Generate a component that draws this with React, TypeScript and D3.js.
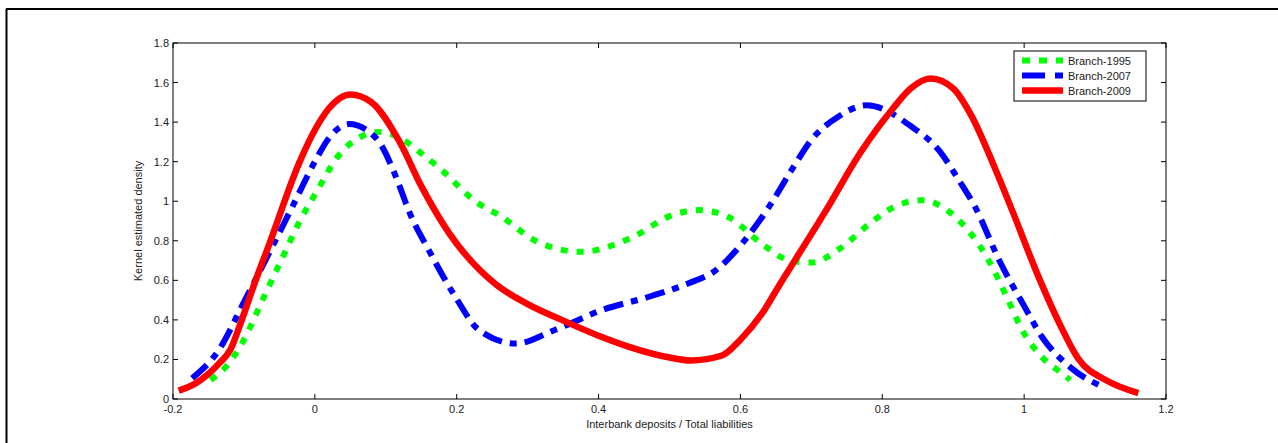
import React from "react";
import * as d3 from "d3";

const W = 1278;
const H = 443;
const M = { left: 173, right: 1166, top: 43, bottom: 399 };

const xTicks = [-0.2, 0, 0.2, 0.4, 0.6, 0.8, 1, 1.2];
const yTicks = [0, 0.2, 0.4, 0.6, 0.8, 1, 1.2, 1.4, 1.6, 1.8];

// Branch-1995 (green dotted)
const x1995 = [-0.147, -0.125, -0.103, -0.07, -0.045, -0.0225, 0.006, 0.029, 0.067, 0.09, 0.12, 0.151, 0.179, 0.226, 0.264, 0.311, 0.376, 0.443, 0.508, 0.541, 0.583, 0.63, 0.67, 0.7, 0.74, 0.78, 0.816, 0.856, 0.9, 0.95, 0.975, 0.997, 1.023, 1.053, 1.065];
const y1995 = [0.096, 0.165, 0.28, 0.53, 0.72, 0.89, 1.07, 1.21, 1.33, 1.35, 1.32, 1.24, 1.157, 1.0, 0.92, 0.8, 0.744, 0.81, 0.935, 0.955, 0.92, 0.785, 0.7, 0.69, 0.76, 0.88, 0.97, 1.005, 0.93, 0.7, 0.52, 0.35, 0.22, 0.13, 0.096];

// Branch-2007 (blue dash-dot)
const x2007 = [-0.173, -0.135, -0.1, -0.06, -0.032, 0, 0.02, 0.048, 0.086, 0.118, 0.132, 0.161, 0.198, 0.231, 0.283, 0.339, 0.405, 0.471, 0.527, 0.565, 0.602, 0.64, 0.672, 0.7, 0.739, 0.778, 0.842, 0.88, 0.908, 0.931, 0.965, 1.0, 1.025, 1.067, 1.115];
const y2007 = [0.105, 0.25, 0.49, 0.77, 0.97, 1.2, 1.32, 1.39, 1.32, 1.09, 0.955, 0.75, 0.517, 0.35, 0.28, 0.35, 0.45, 0.517, 0.585, 0.65, 0.785, 0.97, 1.157, 1.31, 1.43, 1.485, 1.375, 1.257, 1.106, 0.97, 0.7, 0.47, 0.315, 0.155, 0.055];

// Branch-2009 (red solid)
const x2009 = [-0.192, -0.17, -0.149, -0.135, -0.119, -0.105, -0.085, -0.064, -0.0225, 0, 0.02, 0.05, 0.08, 0.118, 0.151, 0.189, 0.255, 0.3, 0.348, 0.4, 0.443, 0.5, 0.53, 0.574, 0.6, 0.63, 0.654, 0.72, 0.77, 0.813, 0.84, 0.868, 0.9, 0.926, 0.955, 0.983, 1.02, 1.05, 1.077, 1.115, 1.161];
const y2009 = [0.042, 0.075, 0.13, 0.18, 0.25, 0.38, 0.585, 0.786, 1.19, 1.36, 1.47, 1.54, 1.5, 1.31, 1.07, 0.84, 0.58, 0.48, 0.4, 0.32, 0.264, 0.21, 0.195, 0.22, 0.3, 0.43, 0.57, 0.95, 1.25, 1.46, 1.57, 1.62, 1.57, 1.43, 1.2, 0.955, 0.62, 0.38, 0.2, 0.096, 0.03];

const series = [
  { name: "Branch-1995", xs: x1995, ys: y1995, color: "#00ff00", width: 6, dash: "7 9", legendDash: "8 9" },
  { name: "Branch-2007", xs: x2007, ys: y2007, color: "#0000ff", width: 6, dash: "20 8 7 8", legendDash: "23 10 8 10" },
  { name: "Branch-2009", xs: x2009, ys: y2009, color: "#ff0000", width: 6.5, dash: "none", legendDash: "none" },
];

const FONT = "Arial, 'Liberation Sans', sans-serif";

export default function App() {
  const x = d3.scaleLinear().domain([-0.2, 1.2]).range([M.left, M.right]);
  const y = d3.scaleLinear().domain([0, 1.8]).range([M.bottom, M.top]);

  const line = d3
    .line<[number, number]>()
    .x((d) => x(d[0]))
    .y((d) => y(d[1]))
    .curve(d3.curveMonotoneX);

  const tick = 5;

  return (
    <svg
      width={W}
      height={H}
      style={{ position: "fixed", left: 0, top: 0, background: "#fff" }}
      fontFamily={FONT}
    >
      {/* outer figure frame (left and top visible) */}
      <line x1={6.5} y1={9} x2={6.5} y2={H} stroke="#000" strokeWidth={2} />
      <line x1={6} y1={9} x2={W} y2={9} stroke="#000" strokeWidth={2} />

      {/* curves */}
      {series.map((s) => (
        <path
          key={s.name}
          d={line(s.xs.map((v, i) => [v, s.ys[i]] as [number, number])) || ""}
          fill="none"
          stroke={s.color}
          strokeWidth={s.width}
          strokeDasharray={s.dash}
          strokeLinejoin="round"
        />
      ))}

      {/* axes box */}
      <rect
        x={M.left}
        y={M.top}
        width={M.right - M.left}
        height={M.bottom - M.top}
        fill="none"
        stroke="#000"
        strokeWidth={1}
      />

      {/* x ticks */}
      {xTicks.map((t) => (
        <g key={"x" + t}>
          <line x1={x(t)} x2={x(t)} y1={M.bottom} y2={M.bottom - tick} stroke="#000" />
          <line x1={x(t)} x2={x(t)} y1={M.top} y2={M.top + tick} stroke="#000" />
          <text x={x(t)} y={413} textAnchor="middle" fontSize={11} fill="#222">
            {t}
          </text>
        </g>
      ))}

      {/* y ticks */}
      {yTicks.map((t) => (
        <g key={"y" + t}>
          <line x1={M.left} x2={M.left + tick} y1={y(t)} y2={y(t)} stroke="#000" />
          <line x1={M.right} x2={M.right - tick} y1={y(t)} y2={y(t)} stroke="#000" />
          <text x={169} y={y(t) + 4} textAnchor="end" fontSize={11} fill="#222">
            {t}
          </text>
        </g>
      ))}

      {/* axis labels */}
      <text x={(M.left + M.right) / 2} y={428} textAnchor="middle" fontSize={11} fill="#222">
        Interbank deposits / Total liabilities
      </text>
      <text
        transform={`translate(142, ${(M.top + M.bottom) / 2}) rotate(-90)`}
        textAnchor="middle"
        fontSize={11}
        fill="#222"
      >
        Kernel estimated density
      </text>

      {/* legend */}
      <g>
        <rect x={1014} y={51} width={132} height={50} fill="#fff" stroke="#000" strokeWidth={1} />
        {series.map((s, i) => {
          const ly = 60.5 + i * 15;
          return (
            <g key={"lg" + s.name}>
              <line x1={1022} x2={1063} y1={ly} y2={ly} stroke={s.color} strokeWidth={s.width} strokeDasharray={s.legendDash} />
              <text x={1068} y={ly + 4} fontSize={11} fill="#222">
                {s.name}
              </text>
            </g>
          );
        })}
      </g>
    </svg>
  );
}
